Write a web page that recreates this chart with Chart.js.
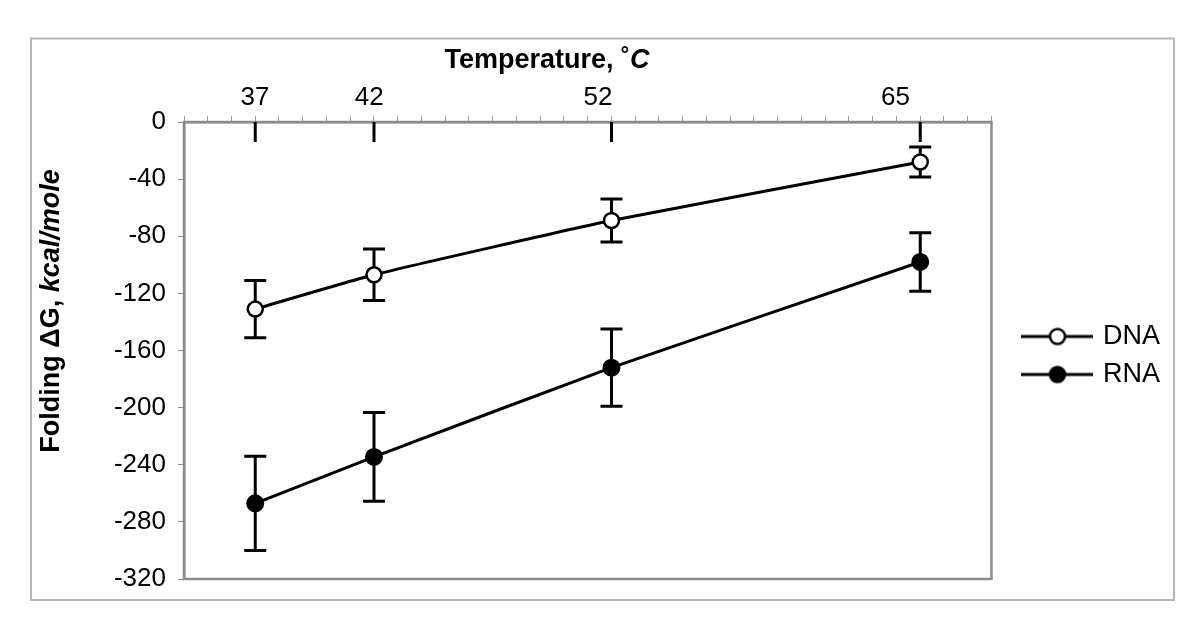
<!DOCTYPE html>
<html>
<head>
<meta charset="utf-8">
<title>Folding ΔG vs temperature</title>
<script src="https://cdn.jsdelivr.net/npm/chart.js@4.4.1/dist/chart.umd.min.js"></script>
<style>
  html, body { margin: 0; padding: 0; background: #fff; }
  #wrap { width: 1196px; height: 644px; position: relative; }
</style>
</head>
<body>
<div id="wrap"><canvas id="chart"></canvas></div>
<script>
(function () {
  'use strict';

  // Values (kcal/mole)
  const temperatures = [37, 42, 52, 65];
  const dnaDeltaG = [-131, -107, -69, -28];
  const dnaError = [20, 18, 15, 10.5];
  const rnaDeltaG = [-267, -234.5, -172, -98];
  const rnaError = [33, 31, 27, 20.5];

  // Axis setup
  const tempLabels = [37, 42, 52, 65];
  const tempRange = [34, 68];
  const tempLabelRange = [33.9, 69.2]; // labels in the original sit a little off their ticks
  const dgRange = [-320, 0];
  const dgStep = 40;

  const FONT = '"Liberation Sans", Arial, sans-serif';
  const AXIS_GRAY = '#8c8c8c';

  const toPoints = (ys) => temperatures.map((t, i) => ({ x: t, y: ys[i] }));

  /**
   * Legend icon: short line with the series marker in the middle.
   */
  const legendIcon = (fill) => {
    const c = document.createElement('canvas');
    c.width = 72;
    c.height = 20;
    const g = c.getContext('2d');
    g.strokeStyle = '#000';
    g.lineWidth = 3;
    g.beginPath();
    g.moveTo(0, 10);
    g.lineTo(72, 10);
    g.stroke();
    g.beginPath();
    g.arc(36, 10, 7.5, 0, Math.PI * 2);
    g.fillStyle = fill;
    g.fill();
    g.lineWidth = 2.5;
    g.stroke();
    return c;
  };
  const icons = [legendIcon('#fff'), legendIcon('#000')];

  /**
   * Background, outer frame and plot frame.
   */
  const frame = {
    id: 'frame',
    beforeDraw(chart) {
      const { ctx, width, height } = chart;
      ctx.save();
      ctx.fillStyle = '#fff';
      ctx.fillRect(0, 0, width, height);
      ctx.strokeStyle = '#b6b6b6';
      ctx.lineWidth = 2;
      ctx.strokeRect(31, 38.5, 1143, 561.5);
      ctx.restore();
    },
    beforeDatasetsDraw(chart) {
      const { ctx, chartArea: a, scales: { x } } = chart;
      ctx.save();
      ctx.strokeStyle = AXIS_GRAY;
      ctx.lineWidth = 2.5;
      ctx.strokeRect(a.left, a.top, a.right - a.left, a.bottom - a.top);
      // major ticks hang down into the plot at the measured temperatures
      ctx.strokeStyle = '#000';
      ctx.lineWidth = 3;
      ctx.beginPath();
      tempLabels.forEach((t) => {
        const px = x.getPixelForValue(t);
        ctx.moveTo(px, a.top);
        ctx.lineTo(px, a.top + 20);
      });
      ctx.stroke();
      ctx.restore();
    }
  };

  /**
   * Vertical error bars with caps, drawn under the markers.
   */
  const errorBars = {
    id: 'errorBars',
    beforeDatasetsDraw(chart) {
      const { ctx, scales: { y } } = chart;
      ctx.save();
      ctx.strokeStyle = '#000';
      ctx.lineWidth = 3;
      chart.data.datasets.forEach((ds, i) => {
        chart.getDatasetMeta(i).data.forEach((pt, j) => {
          const v = ds.data[j].y;
          const e = ds.errors[j];
          const top = y.getPixelForValue(v + e);
          const bot = y.getPixelForValue(v - e);
          ctx.beginPath();
          ctx.moveTo(pt.x, top);
          ctx.lineTo(pt.x, bot);
          ctx.moveTo(pt.x - 11, top);
          ctx.lineTo(pt.x + 11, top);
          ctx.moveTo(pt.x - 11, bot);
          ctx.lineTo(pt.x + 11, bot);
          ctx.stroke();
        });
      });
      ctx.restore();
    }
  };

  /**
   * Axis titles with a bold-italic unit part.
   */
  const drawMixed = (ctx, parts, x, y) => {
    let cx = x;
    parts.forEach(([text, font]) => {
      ctx.font = font;
      ctx.fillText(text, cx, y);
      cx += ctx.measureText(text).width;
    });
  };
  const mixedWidth = (ctx, parts) => parts.reduce((w, [text, font]) => {
    ctx.font = font;
    return w + ctx.measureText(text).width;
  }, 0);

  const axisTitles = {
    id: 'axisTitles',
    afterDraw(chart) {
      const { ctx } = chart;
      const bold = 'bold 27px ' + FONT;
      const boldItalic = 'italic bold 27px ' + FONT;
      ctx.save();
      ctx.fillStyle = '#000';
      ctx.textBaseline = 'alphabetic';
      ctx.textAlign = 'left';

      const xParts = [['Temperature, ˚', bold], ['C', boldItalic]];
      const xw = mixedWidth(ctx, xParts);
      drawMixed(ctx, xParts, 547 - xw / 2, 68);

      const yParts = [['Folding ΔG, ', bold], ['kcal/mole', boldItalic]];
      const yw = mixedWidth(ctx, yParts);
      ctx.translate(59, 311);
      ctx.rotate(-Math.PI / 2);
      drawMixed(ctx, yParts, -yw / 2, 0);
      ctx.restore();
    }
  };

  new Chart(document.getElementById('chart'), {
    type: 'line',
    data: {
      datasets: [
        {
          label: 'DNA',
          data: toPoints(dnaDeltaG),
          errors: dnaError,
          borderColor: '#000',
          borderWidth: 3,
          tension: 0.15,
          pointRadius: 7.5,
          pointBorderWidth: 2.5,
          pointBackgroundColor: '#fff',
          pointBorderColor: '#000'
        },
        {
          label: 'RNA',
          data: toPoints(rnaDeltaG),
          errors: rnaError,
          borderColor: '#000',
          borderWidth: 3,
          tension: 0.15,
          pointRadius: 8,
          pointBorderWidth: 2,
          pointBackgroundColor: '#000',
          pointBorderColor: '#000'
        }
      ]
    },
    options: {
      responsive: true,
      maintainAspectRatio: false,
      animation: false,
      layout: { padding: { left: 0, top: 0, right: 26, bottom: 65 } },
      scales: {
        x: {
          type: 'linear',
          position: 'top',
          min: tempRange[0],
          max: tempRange[1],
          ticks: { display: false, stepSize: 1 },
          grid: { drawOnChartArea: false, drawTicks: true, tickLength: 6, color: '#9a9a9a' },
          border: { color: AXIS_GRAY, width: 2.5 },
          afterFit: (s) => { s.height = 6; }
        },
        xLabels: {
          type: 'linear',
          position: 'top',
          weight: 1,
          min: tempLabelRange[0],
          max: tempLabelRange[1],
          afterBuildTicks: (s) => { s.ticks = tempLabels.map((v) => ({ value: v })); },
          ticks: { color: '#000', font: { family: FONT, size: 26 }, padding: 3, maxRotation: 0 },
          grid: { display: false, drawTicks: false },
          border: { display: false },
          afterFit: (s) => { s.height = 116; }
        },
        y: {
          type: 'linear',
          min: dgRange[0],
          max: dgRange[1],
          ticks: { stepSize: dgStep, color: '#000', font: { family: FONT, size: 26 }, padding: 12 },
          grid: { drawOnChartArea: false, drawTicks: true, tickLength: 6, color: AXIS_GRAY },
          border: { color: AXIS_GRAY, width: 2.5 },
          afterFit: (s) => { s.width = 184; }
        },
        gap: {
          type: 'linear',
          position: 'right',
          ticks: { display: false },
          grid: { display: false },
          border: { display: false },
          afterFit: (s) => { s.width = 23; }
        }
      },
      plugins: {
        tooltip: { enabled: false },
        legend: {
          position: 'right',
          align: 'center',
          fullSize: false,
          // empty title only nudges the entries down a few pixels
          title: { display: true, text: '', font: { size: 5 }, padding: 2 },
          labels: {
            usePointStyle: true,
            pointStyleWidth: 64,
            padding: 11,
            color: '#000',
            font: { family: FONT, size: 27 },
            generateLabels: (chart) => Chart.defaults.plugins.legend.labels.generateLabels(chart)
              .map((item, i) => ({ ...item, pointStyle: icons[i] }))
          }
        }
      }
    },
    plugins: [frame, errorBars, axisTitles]
  });
})();
</script>
</body>
</html>
